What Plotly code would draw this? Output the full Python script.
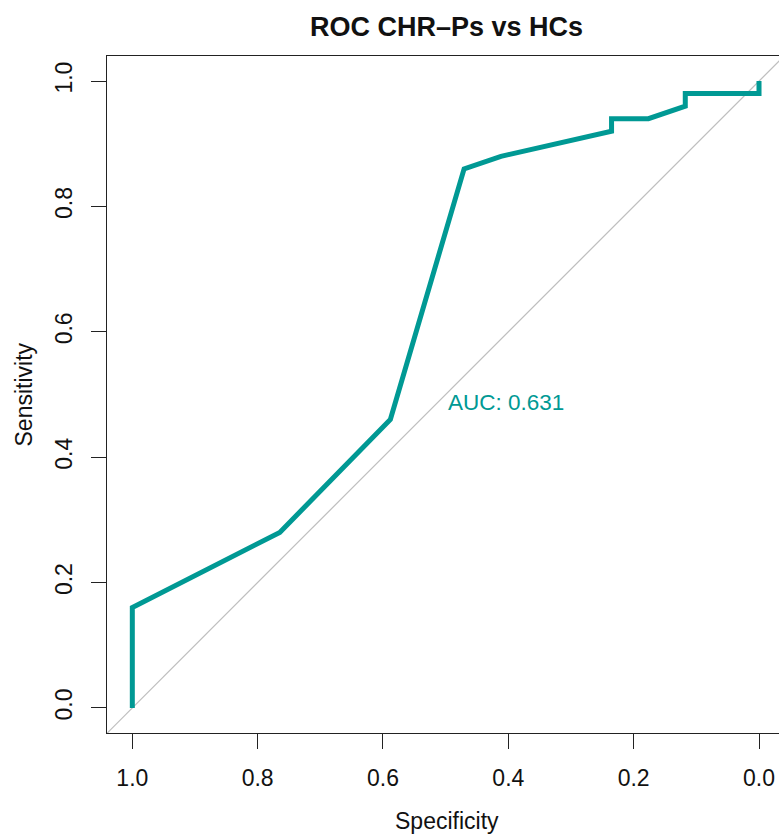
import plotly.graph_objects as go

# ROC curve coordinates (17 healthy controls, 50 CHR-P subjects)
specificity = [1.0, 1.0, 13/17, 10/17, 8/17, 7/17, 4/17, 4/17, 3/17, 2/17, 2/17, 0.0, 0.0]
sensitivity = [0.0, 0.16, 0.28, 0.46, 0.86, 0.88, 0.92, 0.94, 0.94, 0.96, 0.98, 0.98, 1.0]
auc_value = 0.631

tick_vals = [1.0, 0.8, 0.6, 0.4, 0.2, 0.0]
tick_text = ["1.0", "0.8", "0.6", "0.4", "0.2", "0.0"]

chance_x = [1.2, -0.2]
chance_y = [1 - v for v in chance_x]

TEAL = "#009994"
FONT = "Liberation Sans, Arial, Helvetica, sans-serif"

fig = go.Figure()

# identity (chance) line
fig.add_trace(go.Scatter(
    x=chance_x, y=chance_y, mode="lines",
    line=dict(color="#BEBEBE", width=1.2),
    hoverinfo="skip", showlegend=False,
))

# ROC curve
fig.add_trace(go.Scatter(
    x=specificity, y=sensitivity, mode="lines",
    line=dict(color=TEAL, width=5),
    showlegend=False,
))

axis_common = dict(
    tickvals=tick_vals, ticktext=tick_text,
    ticks="outside", ticklen=15, tickwidth=1.3, tickcolor="#222",
    showline=True, linecolor="#222", linewidth=1.3,
    showgrid=False, zeroline=False,
    tickfont=dict(family=FONT, size=23, color="#111"),
)

fig.update_xaxes(range=[1.0404, -0.0319], mirror=True, ticklabelstandoff=9, **axis_common)
fig.update_yaxes(range=[-0.04, 1.04], mirror=False, tickangle=-90, ticklabelstandoff=10, **axis_common)

fig.add_annotation(
    x=0.5, y=0.4865, xref="x", yref="y",
    text=f"AUC: {auc_value:.3f}", showarrow=False,
    xanchor="left", yanchor="middle",
    font=dict(family=FONT, size=22.5, color=TEAL),
)

fig.add_annotation(
    x=0.4985, y=1, xref="x", yref="paper",
    text="<b>ROC CHR–Ps vs HCs</b>", showarrow=False,
    xanchor="center", yanchor="middle", yshift=29,
    font=dict(family=FONT, size=27, color="#111"),
)

fig.add_annotation(
    x=0.4985, y=0, xref="x", yref="paper",
    text="Specificity", showarrow=False,
    xanchor="center", yanchor="middle", yshift=-88,
    font=dict(family=FONT, size=23, color="#111"),
)

fig.add_annotation(
    x=0, y=0.5, xref="paper", yref="y",
    text="Sensitivity", showarrow=False, textangle=-90,
    xanchor="center", yanchor="middle", xshift=-84,
    font=dict(family=FONT, size=23, color="#111"),
)

fig.update_layout(
    width=779, height=834,
    margin=dict(l=107, r=0, t=56, b=101),
    plot_bgcolor="white", paper_bgcolor="white",
)

fig.write_html("out.html")
